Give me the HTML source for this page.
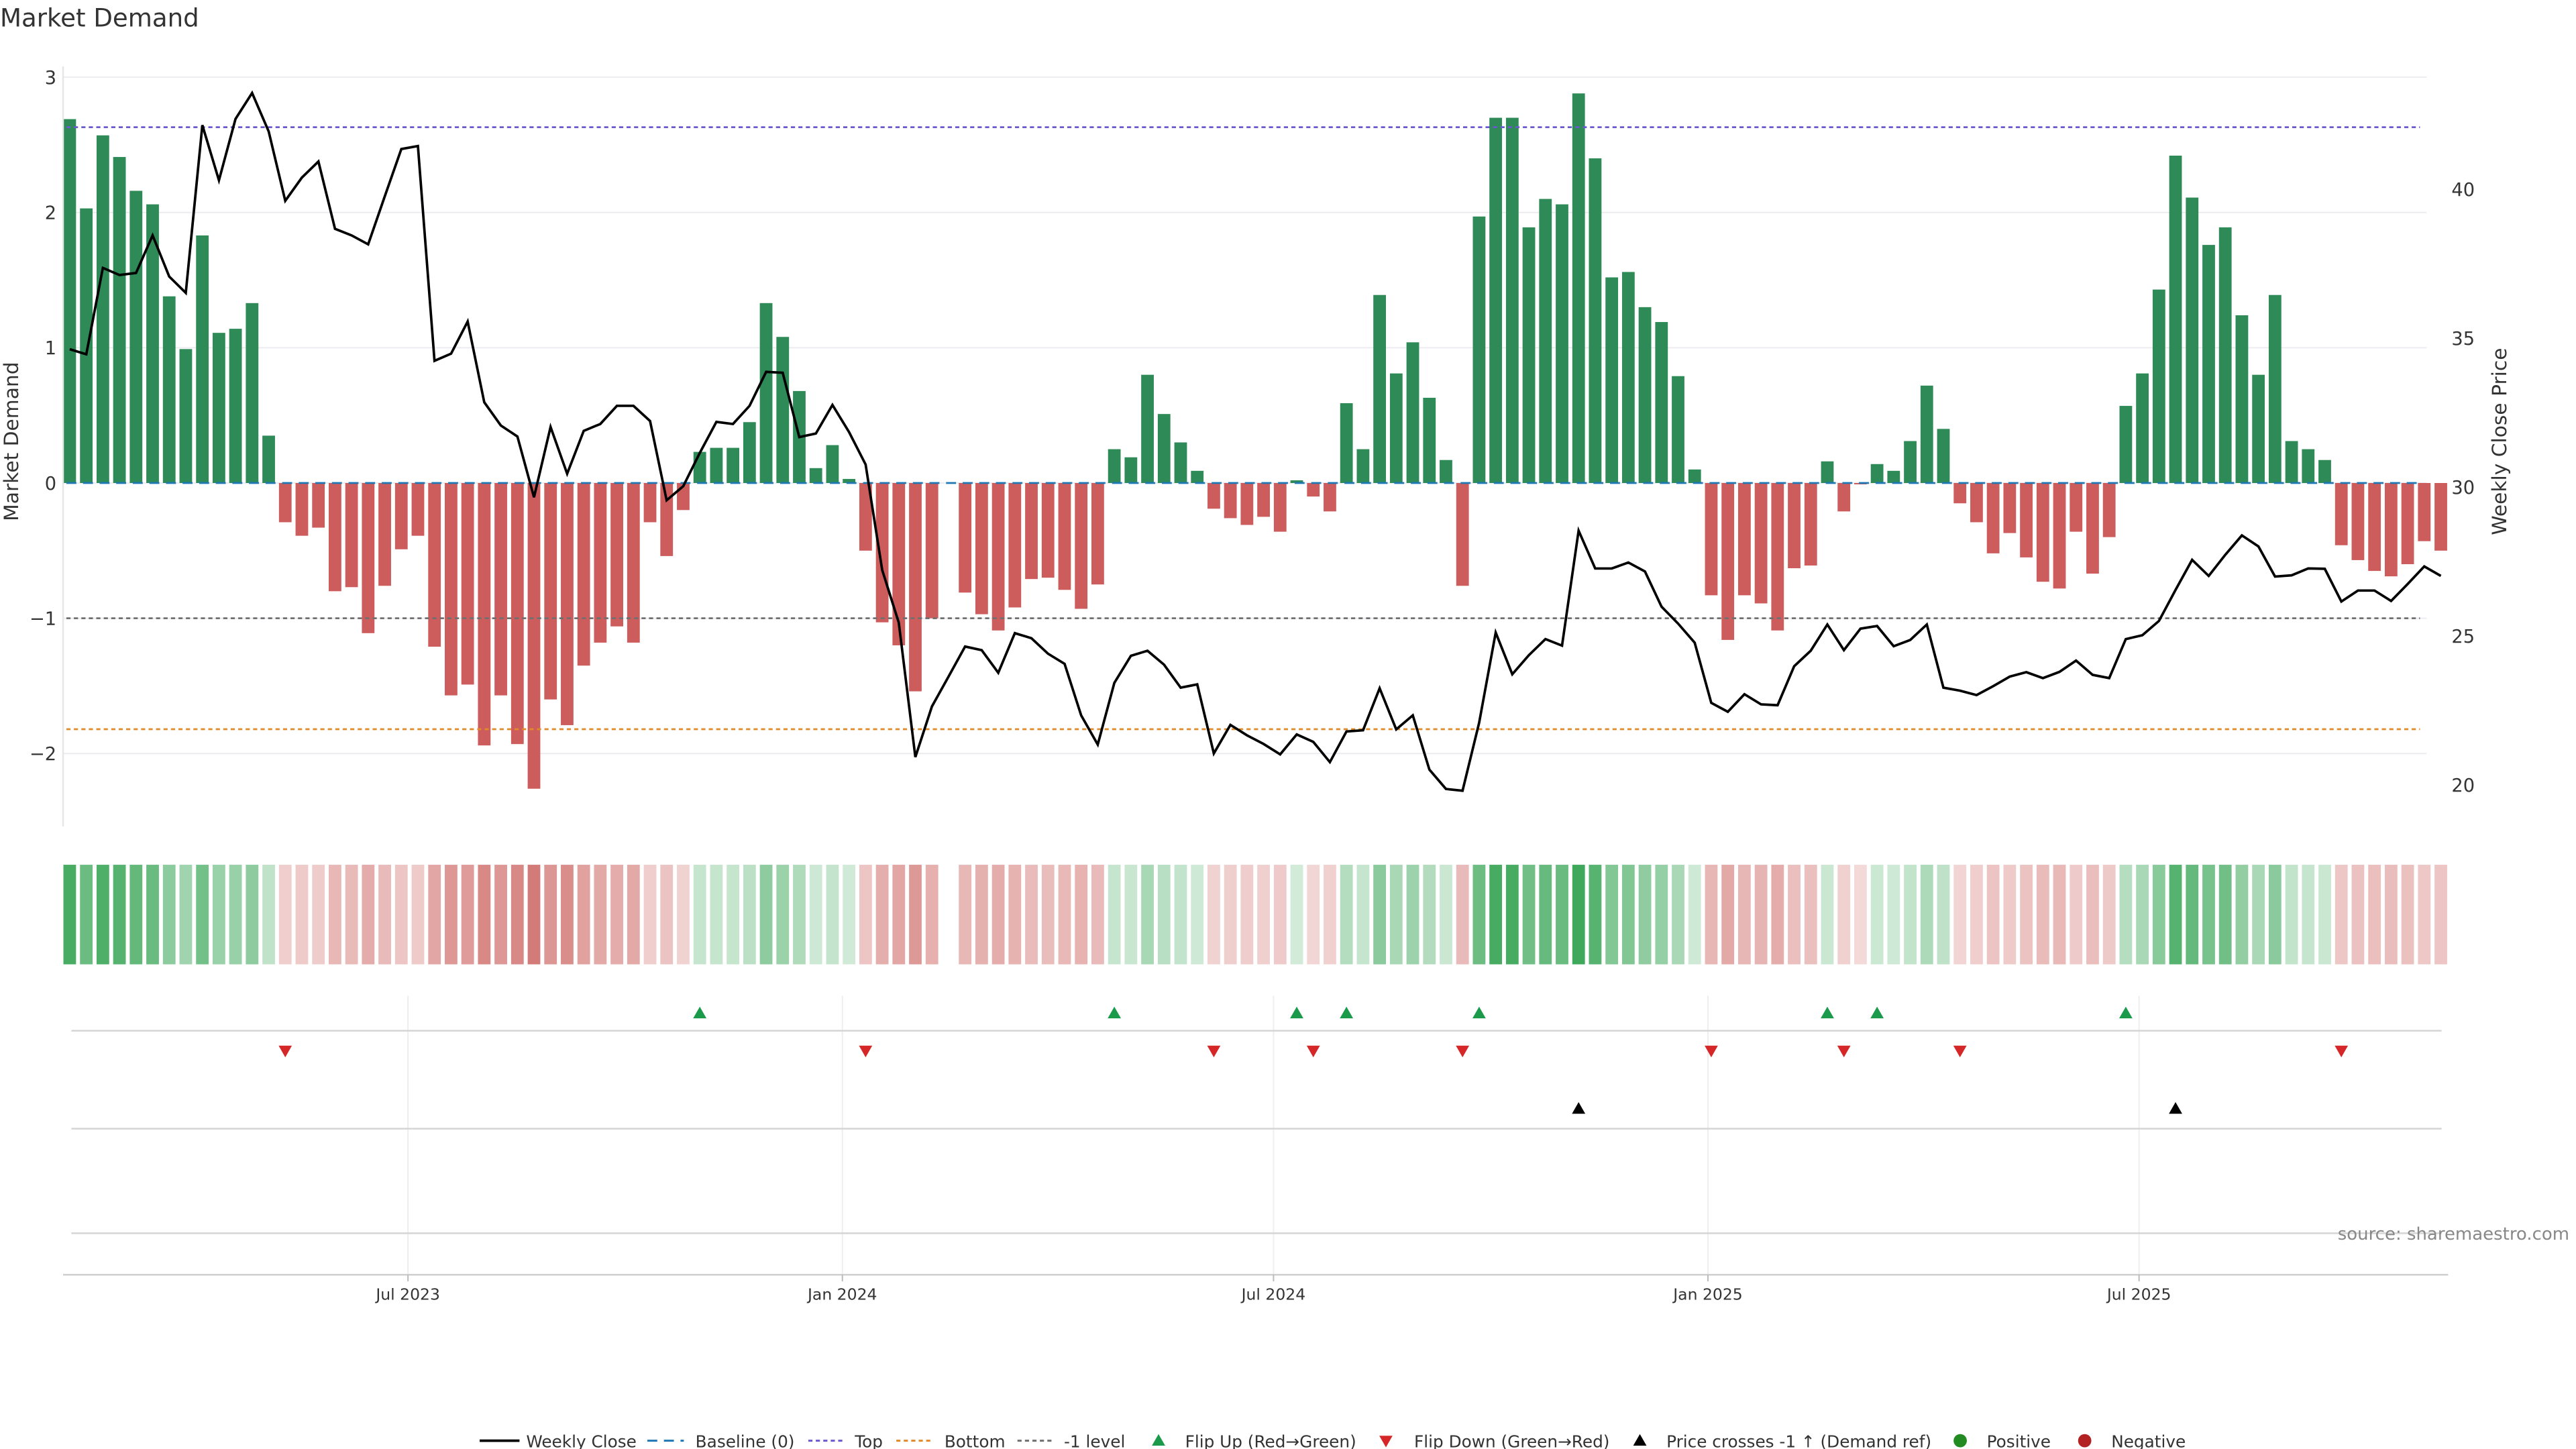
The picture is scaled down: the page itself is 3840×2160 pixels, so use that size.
<!DOCTYPE html>
<html><head><meta charset="utf-8"><style>
html,body{margin:0;padding:0;background:#fff;}
svg{display:block;font-family:"DejaVu Sans","Liberation Sans",sans-serif;}
</style></head><body>
<svg id="chart" width="3840" height="2160" viewBox="0 0 1552 873" preserveAspectRatio="none" xmlns="http://www.w3.org/2000/svg">
<rect x="0" y="0" width="1552" height="873" fill="#fff"/>
<text x="0" y="16" font-size="15" fill="#333">Market Demand</text>
<g id="grid"></g>
<g id="heat"></g>
<g id="bars"></g>
<g id="refs"></g>
<g id="price"></g>
<g id="markers"></g>
<g id="axes"></g>
<g id="legend"></g>
<text x="1548" y="747" font-size="10.5" fill="#888" text-anchor="end">source: sharemaestro.com</text>
</svg>
<script>
const demandValues=[2.69,2.03,2.57,2.41,2.16,2.06,1.38,0.99,1.83,1.11,1.14,1.33,0.35,-0.29,-0.39,-0.33,-0.80,-0.77,-1.11,-0.76,-0.49,-0.39,-1.21,-1.57,-1.49,-1.94,-1.57,-1.93,-2.26,-1.60,-1.79,-1.35,-1.18,-1.06,-1.18,-0.29,-0.54,-0.20,0.23,0.26,0.26,0.45,1.33,1.08,0.68,0.11,0.28,0.03,-0.50,-1.03,-1.20,-1.54,-1.00,null,-0.81,-0.97,-1.09,-0.92,-0.71,-0.70,-0.79,-0.93,-0.75,0.25,0.19,0.80,0.51,0.30,0.09,-0.19,-0.26,-0.31,-0.25,-0.36,0.02,-0.10,-0.21,0.59,0.25,1.39,0.81,1.04,0.63,0.17,-0.76,1.97,2.70,2.70,1.89,2.10,2.06,2.88,2.40,1.52,1.56,1.30,1.19,0.79,0.10,-0.83,-1.16,-0.83,-0.89,-1.09,-0.63,-0.61,0.16,-0.21,-0.01,0.14,0.09,0.31,0.72,0.40,-0.15,-0.29,-0.52,-0.37,-0.55,-0.73,-0.78,-0.36,-0.67,-0.40,0.57,0.81,1.43,2.42,2.11,1.76,1.89,1.24,0.80,1.39,0.31,0.25,0.17,-0.46,-0.57,-0.65,-0.69,-0.60,-0.43,-0.50];
const closePrices=[34.63,34.46,37.36,37.12,37.19,38.45,37.07,36.52,42.15,40.30,42.36,43.23,41.94,39.61,40.39,40.93,38.67,38.45,38.15,39.76,41.35,41.45,34.24,34.48,35.56,32.85,32.07,31.70,29.66,32.02,30.45,31.89,32.12,32.73,32.73,32.22,29.56,30.03,31.15,32.19,32.12,32.73,33.87,33.84,31.68,31.80,32.76,31.85,30.76,27.22,25.45,20.94,22.64,23.64,24.65,24.53,23.77,25.10,24.93,24.41,24.07,22.34,21.36,23.43,24.34,24.51,24.04,23.27,23.38,21.06,22.02,21.67,21.38,21.03,21.70,21.45,20.77,21.80,21.84,23.25,21.87,22.34,20.52,19.87,19.81,22.09,25.12,23.72,24.36,24.90,24.68,28.54,27.27,27.27,27.47,27.17,25.99,25.42,24.78,22.76,22.46,23.05,22.71,22.68,23.99,24.51,25.39,24.53,25.25,25.34,24.66,24.87,25.39,23.27,23.17,23.02,23.32,23.64,23.79,23.59,23.80,24.18,23.70,23.59,24.90,25.03,25.51,26.55,27.56,27.02,27.73,28.38,28.01,27.00,27.04,27.27,27.26,26.16,26.53,26.53,26.18,26.75,27.34,27.02];
const demandTicks=[3,2,1,0,-1,-2];
const demandTickLabels=["3","2","1","0","\u22121","\u22122"];
const priceTicks=[20,25,30,35,40];
const dateTickIdx=[20.4,46.6,72.6,98.8,124.8];
const dateTickLabels=["Jul 2023","Jan 2024","Jul 2024","Jan 2025","Jul 2025"];
const topLevel=[2.63];
const bottomLevel=[-1.82];
const minusOneLevel=[-1];

const NS="http://www.w3.org/2000/svg";
function mk(tag,attrs,parent){const e=document.createElementNS(NS,tag);for(const k in attrs)e.setAttribute(k,attrs[k]);parent.appendChild(e);return e;}
const X0=42,DX=9.99,L=38,R=1475;
function xs(i){return X0+i*DX;}
function yd(v){return 291-v*81.5;}
function yp(p){return 293.5-(p-30)*17.95;}
function pFromY(y){return 30-(y-293.5)/17.95;}
const G=id=>document.getElementById(id);

// grid
const grid=G('grid');
demandTicks.forEach(t=>{const l=mk('line',{x1:L,x2:1462,y1:yd(t),y2:yd(t),stroke:'#ececf0','stroke-width':0.8},grid);

});
dateTickIdx.forEach(i=>{const l=mk('line',{x1:xs(i),x2:xs(i),y1:600,y2:768,stroke:'#eeeeee','stroke-width':0.8},grid);

});
[621,680,743].forEach(y=>{const l=mk('line',{x1:43,x2:1471,y1:y,y2:y,stroke:'#d5d5d5','stroke-width':1},grid);

});

// bars + heat
const bars=G('bars'),heat=G('heat');
const maxAbs=Math.max(...demandValues.filter(v=>v!==null).map(Math.abs));
demandValues.forEach((v,i)=>{
 if(v===null)return;
 const x=xs(i),y0=yd(0),y1=yd(v);
 const b=mk('rect',{x:x-3.8,width:7.6,y:Math.min(y0,y1),height:Math.max(0.5,Math.abs(y1-y0)),fill:v>=0?'#2e8b57':'#cd5c5c'},bars);
 
 
 const a=0.22+0.73*Math.abs(v)/maxAbs;
 const c=mk('rect',{x:x-3.8,width:7.6,y:521,height:60,fill:v>=0?'rgb(52,163,82)':'rgb(200,88,84)','fill-opacity':a.toFixed(3)},heat);
 
 
});

// reference lines
const refs=G('refs');
function ref(v,color,dash,name){const l=mk('line',{x1:40,x2:1458,y1:yd(v),y2:yd(v),stroke:color,'stroke-width':1.1,'stroke-dasharray':dash},refs);

}
ref(0,'#1f77b4','6,4','baseline-line');
ref(topLevel[0],'#6a5acd','2.5,2','top-line');
ref(bottomLevel[0],'#e08a2a','2.5,2','bottom-line');
ref(minusOneLevel[0],'#707070','2.5,2','minus-one-line');

// price line
const pts=closePrices.map((p,i)=>xs(i).toFixed(2)+','+yp(p).toFixed(2)).join(' ');
const pl=mk('polyline',{points:pts,fill:'none',stroke:'#000','stroke-width':1.5,'stroke-linejoin':'miter'},G('price'));



// markers derived from data
const mg=G('markers');
let prev=null;
demandValues.forEach((v,i)=>{
 if(v===null)return;
 if(prev!==null){
  const x=xs(i);
  if(prev<0&&v>=0){const t=mk('polygon',{points:`${x-4},613.5 ${x+4},613.5 ${x},606.5`,fill:'#1a9a4a'},mg);
   
   }
  if(prev>=0&&v<0){const t=mk('polygon',{points:`${x-4},630 ${x+4},630 ${x},637`,fill:'#d62728'},mg);
   
   }
 }
 prev=v;
});
const crossP=pFromY(yd(minusOneLevel[0]));
closePrices.forEach((p,i)=>{
 if(i>0&&closePrices[i-1]<crossP&&p>=crossP){const x=xs(i);
  const t=mk('polygon',{points:`${x-4},671 ${x+4},671 ${x},664`,fill:'#000'},mg);
  
  }
});

// axes
const ax=G('axes');
let e=mk('line',{x1:L,x2:L,y1:40,y2:498,stroke:'#e6e6e6','stroke-width':1},ax);


e=mk('line',{x1:L,x2:R,y1:768,y2:768,stroke:'#cfcfcf','stroke-width':1},ax);


demandTicks.forEach((t,k)=>{const tx=mk('text',{x:34,y:yd(t)+4,'font-size':11,fill:'#333','text-anchor':'end'},ax);tx.textContent=demandTickLabels[k];

});
priceTicks.forEach(t=>{const tx=mk('text',{x:1477,y:yp(t)+4,'font-size':11,fill:'#333'},ax);tx.textContent=String(t);

});
dateTickIdx.forEach((i,k)=>{const x=xs(i);
const tk=mk('line',{x1:x,x2:x,y1:768,y2:772,stroke:'#bbb','stroke-width':0.8},ax);


const tx=mk('text',{x:x,y:783,'font-size':9.5,fill:'#333','text-anchor':'middle'},ax);tx.textContent=dateTickLabels[k];

});
e=mk('text',{x:0,y:0,'font-size':12,fill:'#333','text-anchor':'middle',transform:'translate(11,266) rotate(-90)'},ax);e.textContent='Market Demand';


e=mk('text',{x:0,y:0,'font-size':12,fill:'#333','text-anchor':'middle',transform:'translate(1510,266) rotate(-90)'},ax);e.textContent='Weekly Close Price';



// legend
const lg=G('legend');const LY=868;
function ltext(x,s){const t=mk('text',{x:x,y:LY+4,'font-size':10,fill:'#333'},lg);t.textContent=s;

}
function lline(x1,x2,c,d,w){const l=mk('line',{x1:x1,x2:x2,y1:LY,y2:LY,stroke:c,'stroke-width':w,'stroke-dasharray':d},lg);

}
lline(289,313,'#000','none',1.5);ltext(317,'Weekly Close');
lline(390,412,'#1f77b4','6,4',1.2);ltext(419,'Baseline (0)');
lline(487,508,'#6a5acd','2.5,2',1.2);ltext(515,'Top');
lline(540,562,'#e08a2a','2.5,2',1.2);ltext(569,'Bottom');
lline(613,635,'#707070','2.5,2',1.2);ltext(641,'-1 level');
e=mk('polygon',{points:`694,${LY+3} 702,${LY+3} 698,${LY-4}`,fill:'#1a9a4a'},lg);


ltext(714,'Flip Up (Red\u2192Green)');
e=mk('polygon',{points:`831,${LY-3} 839,${LY-3} 835,${LY+4}`,fill:'#d62728'},lg);


ltext(852,'Flip Down (Green\u2192Red)');
e=mk('polygon',{points:`984,${LY+3} 992,${LY+3} 988,${LY-4}`,fill:'#000'},lg);


ltext(1004,'Price crosses -1 \u2191 (Demand ref)');
e=mk('circle',{cx:1181,cy:LY,r:4,fill:'#228b22'},lg);


ltext(1197,'Positive');
e=mk('circle',{cx:1256,cy:LY,r:4,fill:'#b22222'},lg);


ltext(1272,'Negative');
</script>
</body></html>
